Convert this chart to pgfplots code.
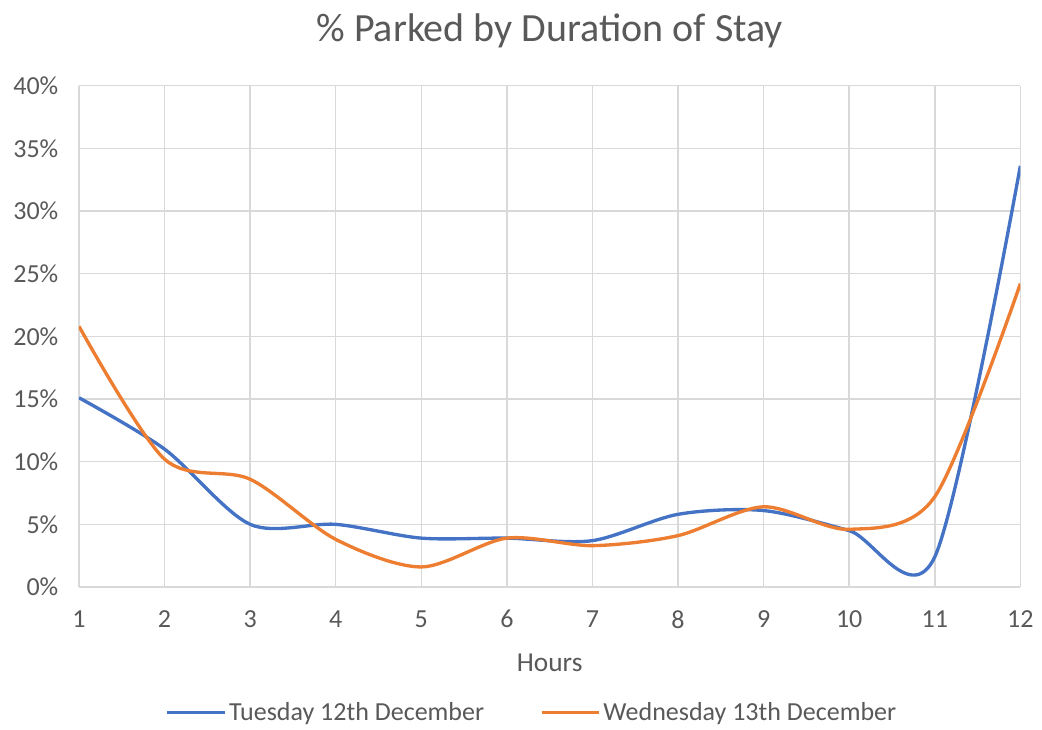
\documentclass[border=0pt]{standalone}
\usepackage{pgfplots}
\pgfplotsset{compat=1.18}
\usepackage{fontspec}
\setmainfont{Carlito}
\definecolor{exblue}{HTML}{4472C4}
\definecolor{exorange}{HTML}{ED7D31}
\definecolor{txt}{HTML}{595959}
\definecolor{gridc}{HTML}{D9D9D9}
\begin{document}
\begin{tikzpicture}
\useasboundingbox (-59.25pt,-106.5pt) rectangle (722.25pt,440.25pt);
\begin{axis}[
  at={(0pt,0pt)}, anchor=south west,
  scale only axis, width=706pt, height=376pt,
  xmin=1, xmax=12, ymin=0, ymax=40,
  xtick={1,...,12}, ytick={0,5,...,40},
  yticklabel={\pgfmathprintnumber{\tick}\%},
  /pgf/number format/assume math mode=true,
  grid=major, major grid style={gridc, line width=1.1pt},
  axis line style={gridc, line width=1.1pt},
  axis x line*=bottom, axis y line*=left,
  tick style={draw=none},
  ticklabel style={font=\fontsize{19.5pt}{21pt}\selectfont, text=txt},
  yticklabel style={xshift=-12pt},
  xticklabel style={yshift=-14pt},
  xlabel={Hours}, xlabel style={font=\fontsize{20.5pt}{22pt}\selectfont, text=txt, yshift=-12pt},
  title={\% Parked by Duration of Stay},
  title style={font=\fontsize{30pt}{33pt}\selectfont, text=txt, yshift=19pt},
  legend style={at={(0.4816,-0.25)}, anchor=center, draw=none, legend columns=2,
    font=\fontsize{19.5pt}{21pt}\selectfont, text=txt, inner sep=1pt,
    /tikz/every even column/.append style={column sep=40pt}},
  legend image code/.code={\draw[#1, line width=2.5pt] (0pt,0pt) -- (43pt,0pt);},
]
\addplot[exblue, line width=2.5pt, smooth, tension=0.5] coordinates {
(1,15.1) (2,11.0) (3,5.0) (4,5.0) (5,3.9) (6,3.9) (7,3.7) (8,5.8) (9,6.1) (10,4.5) (11,2.4) (12,33.6)};
\addlegendentry{Tuesday 12th December}
\addplot[exorange, line width=2.5pt, smooth, tension=0.5] coordinates {
(1,20.8) (2,10.2) (3,8.6) (4,3.8) (5,1.6) (6,3.9) (7,3.3) (8,4.1) (9,6.4) (10,4.6) (11,7.2) (12,24.2)};
\addlegendentry{Wednesday 13th December}
\end{axis}
\end{tikzpicture}
\end{document}
